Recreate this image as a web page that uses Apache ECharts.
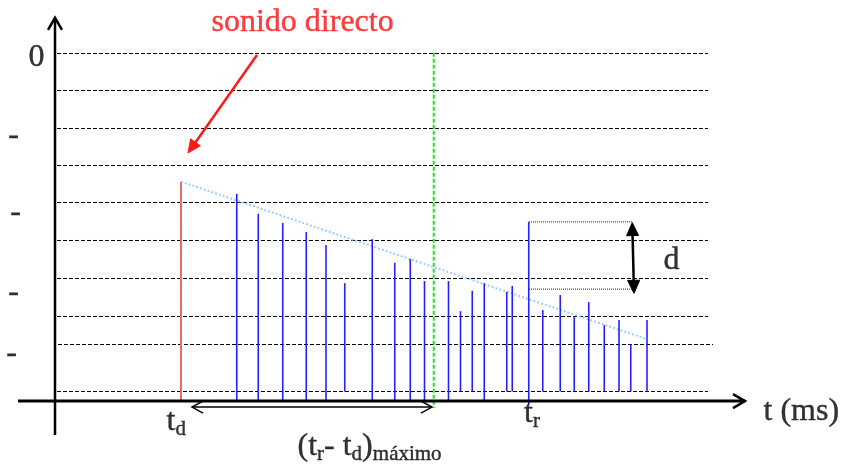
<!DOCTYPE html>
<html>
<head>
<meta charset="utf-8">
<script src="https://cdn.jsdelivr.net/npm/echarts@6/dist/echarts.min.js"></script>
<style>
html,body{margin:0;padding:0;background:#ffffff;}
#chart{width:845px;height:466px;}
</style>
</head>
<body>
<div id="chart"></div>
<script>
// ---------- data (x: time units, y: level units) ----------
const gridLevels = [99.31, 88.74, 77.89, 67.31, 56.74, 45.89, 35.03, 24.17, 16.17, 2.74];
const gridStart  = [0.8, 0.8, 0.8, 0.8, 0.8, 0.8, 0.8, 0.8, 1.2, 0.8];
const gridEnd    = [261.2, 261.2, 261.2, 261.2, 261.2, 261.2, 261.2, 261.2, 263.2, 261.2];

const reflTimes  = [72.7, 81.3, 91.1, 100.5, 108.4, 115.9, 126.9, 135.9, 142.1, 147.8, 157.4, 162.2, 166.9,
                    171.7, 180.7, 182.9, 189.5, 195.1, 202.1, 207.7, 213.5, 219.7, 225.6, 230.3, 236.8];
const reflLevels = [59.2, 53.5, 50.9, 48.3, 44.6, 33.7, 46.3, 39.5, 40.6, 34.3, 34.3, 25.7, 31.5,
                    33.7, 31.2, 32.9, 51.2, 26.0, 30.3, 24.0, 28.3, 21.7, 23.2, 16.3, 23.2];
const reflBase   = [0, 0, 0, 0, 0, 2.74, 0, 0, 0, 0, 0, 2.74, 2.74,
                    0, 2.74, 2.74, -1.1, 2.74, 2.74, 2.74, 2.74, 2.74, 2.74, 2.74, 2.74];

const directSound = [[50.4, 0, 50.4, 62.6]];
const decayLine   = [[50.4, 62.7, 236.8, 17.7]];
const limitLine   = [[151.5, 99.5, 151.5, -2.0]];
const dGuides     = [[189.6, 51.2, 230.8, 51.2], [189.6, 32.0, 230.8, 32.0]];
const dArrow      = [[230.9, 51.0, 231.6, 30.8]];
const directArrow = [[80.8, 98.9, 53.2, 70.9]];
const spanArrow   = [[54.8, -1.7, 150.8, -1.7]];
const axisX       = [[-14.8, 0, 276, 0]];
const axisY       = [[0, -9.7, 0, 109.5]];

const textStr   = ['sonido directo', '0', '-', '-', '-', '-', 'd',
                   't', 'd', 't', 'r',
                   '(t', 'r', '- t', 'd', ')', 'máximo', 't (ms)'];
const textX     = [62.8, -10.4, -16.4, -15.6, -16.4, -17.2, 243.6,
                   44.8, 48.36, 187.8, 191.36,
                   97.2, 105.02, 107.82, 118.84, 123.04, 127.32, 283.6];
const textY     = [107.89, 97.89, 75.76, 53.84, 30.99, 13.47, 40.03,
                   -5.97, -8.18, -3.69, -5.89,
                   -13.11, -15.32, -13.11, -15.32, -13.11, -15.32, -3.11];
const textSize  = [32, 32, 32, 32, 32, 32, 32,
                   32, 21, 32, 21,
                   32, 21, 32, 21, 32, 21, 32];
const textColor = ['#ff1010', '#000', '#000', '#000', '#000', '#000', '#000',
                   '#000', '#000', '#000', '#000',
                   '#000', '#000', '#000', '#000', '#000', '#000', '#000'];
const textAlign = ['left', 'left', 'center', 'center', 'center', 'center', 'left',
                   'left', 'left', 'left', 'left',
                   'left', 'left', 'left', 'left', 'left', 'left', 'left'];

// ---------- helpers ----------
function headPoints(tip, from, len, half) {
  const dx = tip[0] - from[0], dy = tip[1] - from[1];
  const L = Math.hypot(dx, dy) || 1;
  const ux = dx / L, uy = dy / L;
  const bx = tip[0] - ux * len, by = tip[1] - uy * len;
  return { pts: [[bx - uy * half, by + ux * half], [tip[0], tip[1]], [bx + uy * half, by - ux * half]], base: [bx + ux * 2, by + uy * 2] };
}

function segmentSeries(segs, o) {
  return {
    type: 'custom',
    coordinateSystem: 'cartesian2d',
    silent: true,
    clip: false,
    z: o.z || 2,
    data: segs,
    renderItem: function (params, api) {
      const a = api.coord([api.value(0), api.value(1)]);
      const b = api.coord([api.value(2), api.value(3)]);
      let la = a, lb = b;
      const children = [];
      const heads = [];
      if (o.endHead) heads.push([b, a, o.endHead, 'end']);
      if (o.startHead) heads.push([a, b, o.startHead, 'start']);
      heads.forEach(function (h) {
        const hp = headPoints(h[0], h[1], o.len, o.half);
        if (h[2] === 'filled') {
          children.push({ type: 'polygon', shape: { points: hp.pts }, style: { fill: o.color, stroke: o.color, lineWidth: 1 } });
          if (h[3] === 'end') lb = hp.base; else la = hp.base;
        } else {
          children.push({ type: 'polyline', shape: { points: hp.pts }, style: { stroke: o.color, lineWidth: o.headWidth || o.width, fill: null, lineJoin: 'miter' } });
        }
      });
      children.unshift({
        type: 'line',
        shape: { x1: la[0], y1: la[1], x2: lb[0], y2: lb[1] },
        style: { stroke: o.color, lineWidth: o.width, lineDash: o.dash || null, fill: null }
      });
      return { type: 'group', children: children };
    }
  };
}

const gridSegs = gridLevels.map(function (lv, i) { return [gridStart[i], lv, gridEnd[i], lv]; });
const reflData = reflTimes.map(function (t, i) { return [t, reflLevels[i], reflBase[i]]; });

const chart = echarts.init(document.getElementById('chart'), null, { renderer: 'canvas' });

chart.setOption({
  animation: false,
  backgroundColor: '#ffffff',
  grid: { left: 0, right: 0, top: 0, bottom: 0, containLabel: false },
  xAxis: { type: 'value', min: -22, max: 316, show: false },
  yAxis: { type: 'value', min: -18.54, max: 114.6, show: false },
  series: [
    segmentSeries(gridSegs, { color: '#000000', width: 1, dash: [4, 2], z: 1 }),
    segmentSeries(limitLine, { color: '#1ee61e', width: 2, dash: [4, 2], z: 2 }),
    segmentSeries(decayLine, { color: '#9fcdff', width: 2, dash: [2, 2], z: 2 }),
    segmentSeries(directSound, { color: '#f06868', width: 2, z: 3 }),
    {
      type: 'custom',
      coordinateSystem: 'cartesian2d',
      silent: true,
      clip: false,
      z: 3,
      data: reflData,
      renderItem: function (params, api) {
        const top = api.coord([api.value(0), api.value(1)]);
        const bot = api.coord([api.value(0), api.value(2)]);
        return {
          type: 'line',
          shape: { x1: top[0], y1: top[1], x2: bot[0], y2: bot[1] },
          style: { stroke: '#2222ff', lineWidth: 1.6 }
        };
      }
    },
    segmentSeries(dGuides, { color: '#222222', width: 1, dash: [1, 1], z: 2 }),
    segmentSeries(dArrow, { color: '#000000', width: 2.5, startHead: 'filled', endHead: 'filled', len: 13, half: 6, z: 4 }),
    segmentSeries(directArrow, { color: '#ff1a1a', width: 2.5, endHead: 'filled', len: 13, half: 6, z: 4 }),
    segmentSeries(spanArrow, { color: '#000000', width: 1.5, startHead: 'open', endHead: 'open', len: 11, half: 6, z: 4 }),
    segmentSeries(axisX, { color: '#000000', width: 3, endHead: 'open', len: 12, half: 7, headWidth: 2.5, z: 5 }),
    segmentSeries(axisY, { color: '#000000', width: 2.5, endHead: 'open', len: 12, half: 7, headWidth: 2.5, z: 5 }),
    {
      type: 'scatter',
      silent: true,
      symbolSize: 1,
      itemStyle: { color: 'rgba(0,0,0,0)' },
      emphasis: { disabled: true },
      z: 6,
      data: textStr.map(function (s, i) {
        return {
          value: [textX[i], textY[i]],
          label: {
            show: true,
            formatter: s,
            position: [0, 0],
            align: textAlign[i],
            verticalAlign: 'middle',
            fontSize: textSize[i],
            fontFamily: 'Liberation Serif',
            color: textColor[i],
            textBorderColor: textColor[i],
            textBorderWidth: 0.4
          }
        };
      })
    }
  ]
});
</script>
</body>
</html>
